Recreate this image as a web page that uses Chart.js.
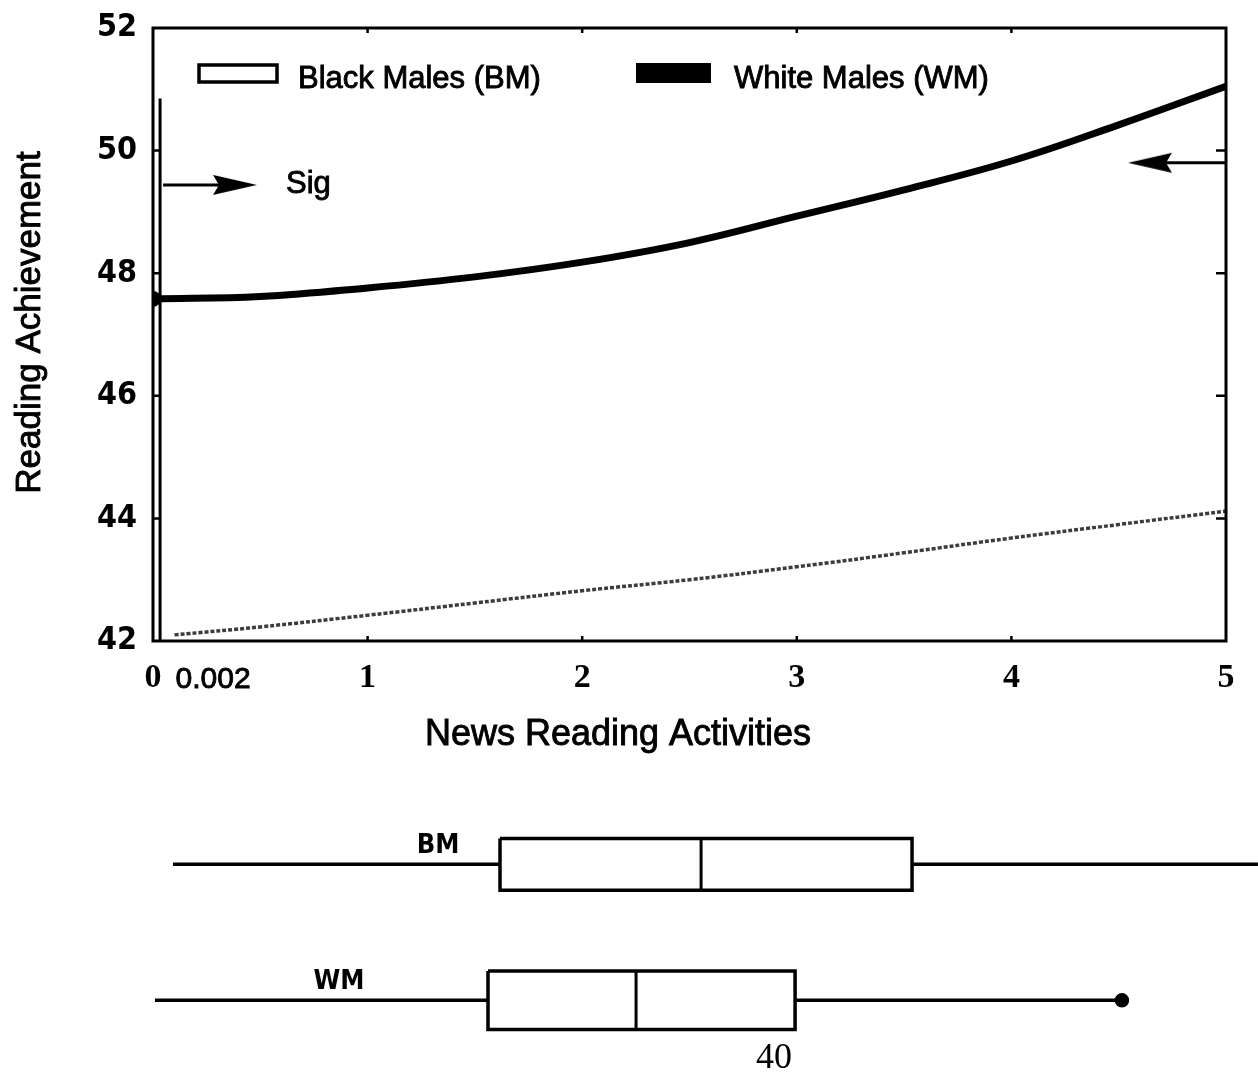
<!DOCTYPE html>
<html>
<head>
<meta charset="utf-8">
<script src="https://cdn.jsdelivr.net/npm/chart.js@4.4.1/dist/chart.umd.min.js"></script>
<style>
  body { margin: 0; background: #fff; width: 1258px; height: 1082px; position: relative; overflow: hidden; }
  #grafico { position: absolute; left: 0; top: 0; }
  #cajas { position: absolute; left: 0; top: 760px; }
  #pagina { position: absolute; left: 756px; top: 1036px; font: 36px 'Liberation Serif', serif; color: #000; line-height: 40px; }
</style>
</head>
<body>
<canvas id="grafico" width="1258" height="760"></canvas>
<canvas id="cajas" width="1258" height="322"></canvas>
<div id="pagina">40</div>
<script>
// datos de la curva
const actividades = [0, 0.5, 1, 1.5, 2, 2.5, 3, 3.5, 4, 4.5, 5];
const logroWM = [47.58, 47.62, 47.76, 47.94, 48.18, 48.5, 48.93, 49.36, 49.83, 50.42, 51.05];
const actividadesBM = [0.1, 0.5, 1, 1.5, 2, 2.5, 3, 3.5, 4, 4.5, 5];
const logroBM = [42.1, 42.23, 42.42, 42.62, 42.82, 43.0, 43.21, 43.44, 43.68, 43.9, 44.12];
const etiquetas = ['Black Males (BM)', 'White Males (WM)'];

// region significativa
const sigX = [0.033, 0.033];
const sigY = [42, 50.85];
const flechaSigX = [0.047, 0.382];
const flechaSigY = [49.44, 49.44];
const flechaDerX = [5, 4.646];
const flechaDerY = [49.8, 49.8];

// diagramas de caja
const grupos = ['BM', 'WM'];
const filas = [1, 2];
const bigoteMin = [0.093, 0.009];
const cuartil1 = [1.617, 1.561];
const medianas = [2.554, 2.251];
const cuartil3 = [3.537, 2.992];
const bigoteMax = [5.149, 4.515];
const puntoFinal = [false, true];

const SANS = "'Liberation Sans', Arial, sans-serif";
const NARROW = "'Liberation Sans Narrow', 'DejaVu Sans Condensed', 'Liberation Sans', sans-serif";
const SERIF = "'Liberation Serif', serif";

function puntaFlecha() {
    const c = document.createElement('canvas');
    c.width = 44; c.height = 22;
    const g = c.getContext('2d');
    g.fillStyle = '#000';
    g.beginPath();
    g.moveTo(0, 1); g.lineTo(44, 11); g.lineTo(0, 21); g.lineTo(6, 11);
    g.closePath(); g.fill();
    return c;
}
const punta = puntaFlecha();

const pares = (xs, ys) => xs.map((x, i) => ({ x, y: ys[i] }));

// texto algo mas grueso, como en el escaneo
function textoGrueso(ctx, txt, x, y) {
    ctx.lineWidth = 0.9;
    ctx.strokeStyle = '#000';
    ctx.fillText(txt, x, y);
    ctx.strokeText(txt, x, y);
}

const decoracion = {
    id: 'decoracion',
    afterDraw(chart) {
        const { ctx, chartArea: a, scales: { x, y } } = chart;
        ctx.save();
        ctx.strokeStyle = '#000';
        ctx.lineWidth = 3;
        ctx.strokeRect(a.left, a.top, a.right - a.left, a.bottom - a.top);

        // marcas internas
        ctx.lineWidth = 2.5;
        [44, 46, 48, 50].forEach(v => {
            const py = y.getPixelForValue(v);
            ctx.beginPath();
            ctx.moveTo(a.left, py); ctx.lineTo(a.left + 8, py);
            ctx.moveTo(a.right, py); ctx.lineTo(a.right - 10, py);
            ctx.stroke();
        });
        [1, 2, 3, 4].forEach(v => {
            const px = x.getPixelForValue(v);
            ctx.beginPath();
            ctx.moveTo(px, a.bottom); ctx.lineTo(px, a.bottom - 5);
            ctx.moveTo(px, a.top); ctx.lineTo(px, a.top + 5);
            ctx.stroke();
        });

        // leyenda
        ctx.lineWidth = 3.5;
        ctx.fillStyle = '#fff';
        ctx.fillRect(199, 65, 78, 17);
        ctx.strokeRect(199, 65, 78, 17);
        ctx.fillStyle = '#000';
        ctx.fillRect(636, 63, 75, 20);
        ctx.font = '31px ' + SANS;
        ctx.textBaseline = 'middle';
        ctx.textAlign = 'left';
        textoGrueso(ctx, etiquetas[0], 298, 79);
        textoGrueso(ctx, etiquetas[1], 734, 79);

        // textos
        textoGrueso(ctx, 'Sig', x.getPixelForValue(0.62), y.getPixelForValue(49.44));
        ctx.font = '30px ' + SANS;
        ctx.textAlign = 'center';
        textoGrueso(ctx, '0.002', x.getPixelForValue(0.28), 680);
        ctx.font = '36px ' + SANS;
        textoGrueso(ctx, 'News Reading Activities', 618, 735);

        // titulo del eje y
        ctx.translate(30, (a.top + a.bottom) / 2 - 12);
        ctx.rotate(-Math.PI / 2);
        ctx.font = '35px ' + SANS;
        textoGrueso(ctx, 'Reading Achievement', 0, 0);
        ctx.restore();
    }
};

new Chart(document.getElementById('grafico'), {
    type: 'line',
    data: {
        datasets: [
            {
                label: etiquetas[0],
                data: pares(actividadesBM, logroBM),
                borderColor: '#3c3c3c',
                borderWidth: 3.5,
                borderDash: [4, 2],
                pointRadius: 0,
                tension: 0.4
            },
            {
                label: etiquetas[1],
                data: pares(actividades, logroWM),
                borderColor: '#000',
                borderWidth: 7,
                pointRadius: actividades.map((_, i) => i === 0 ? 4.5 : 0),
                pointBackgroundColor: '#000',
                tension: 0.4
            },
            {
                label: 'Sig',
                data: pares(sigX, sigY),
                borderColor: '#000',
                borderWidth: 3,
                pointRadius: 0
            },
            {
                label: 'flechaSig',
                data: pares(flechaSigX, flechaSigY),
                borderColor: '#000',
                borderWidth: 3,
                pointRadius: [0, 5],
                pointStyle: punta,
                pointRotation: 0
            },
            {
                label: 'flechaDer',
                data: pares(flechaDerX, flechaDerY),
                borderColor: '#000',
                borderWidth: 3,
                pointRadius: [0, 5],
                pointStyle: punta,
                pointRotation: 180
            }
        ]
    },
    options: {
        responsive: false,
        animation: false,
        layout: { padding: { top: 28, right: 32, left: 0, bottom: 0 } },
        plugins: { legend: { display: false }, tooltip: { enabled: false } },
        scales: {
            x: {
                type: 'linear',
                min: 0,
                max: 5,
                afterFit: s => { s.height = 119; },
                grid: { display: false },
                border: { display: false },
                ticks: {
                    stepSize: 1,
                    padding: 9,
                    color: '#000',
                    font: { family: SERIF, size: 34, weight: 'bold' }
                }
            },
            y: {
                min: 42,
                max: 52,
                afterFit: s => { s.width = 153; },
                grid: { display: false },
                border: { display: false },
                ticks: {
                    stepSize: 2,
                    padding: 8,
                    color: '#000',
                    font: { family: NARROW, size: 32, weight: 'bold' }
                }
            }
        }
    },
    plugins: [decoracion]
});

// cajas y bigotes
const conjuntos = [];
const medioAlto = [0.19, 0.215];
grupos.forEach((g, i) => {
    const f = filas[i];
    const h = medioAlto[i];
    conjuntos.push({
        label: g + ' bigote inferior',
        data: [{ x: bigoteMin[i], y: f }, { x: cuartil1[i], y: f }],
        borderColor: '#000', borderWidth: 3.5, pointRadius: 0, clip: false
    });
    conjuntos.push({
        label: g + ' bigote superior',
        data: [{ x: cuartil3[i], y: f }, { x: bigoteMax[i], y: f }],
        borderColor: '#000', borderWidth: 3.5, clip: false,
        pointRadius: [0, puntoFinal[i] ? 5.5 : 0],
        pointBackgroundColor: '#000', pointBorderColor: '#000'
    });
    conjuntos.push({
        label: g + ' caja',
        data: [
            { x: cuartil1[i], y: f - h }, { x: cuartil3[i], y: f - h },
            { x: cuartil3[i], y: f + h }, { x: cuartil1[i], y: f + h },
            { x: cuartil1[i], y: f - h }
        ],
        borderColor: '#000', borderWidth: 3.5, pointRadius: 0,
        fill: false, clip: false, borderJoinStyle: 'miter'
    });
    conjuntos.push({
        label: g + ' mediana',
        data: [{ x: medianas[i], y: f - h }, { x: medianas[i], y: f + h }],
        borderColor: '#000', borderWidth: 3, pointRadius: 0, clip: false
    });
});

const rotulos = {
    id: 'rotulos',
    afterDraw(chart) {
        const { ctx, scales: { x, y } } = chart;
        const posX = [1.328, 0.867];
        ctx.save();
        ctx.fillStyle = '#000';
        ctx.font = 'bold 27px ' + NARROW;
        ctx.textAlign = 'center';
        ctx.textBaseline = 'middle';
        grupos.forEach((g, i) => {
            ctx.fillText(g, x.getPixelForValue(posX[i]), y.getPixelForValue(filas[i]) - 18);
        });
        ctx.restore();
    }
};

new Chart(document.getElementById('cajas'), {
    type: 'line',
    data: { datasets: conjuntos },
    options: {
        responsive: false,
        animation: false,
        layout: { padding: { top: 0, right: 32, left: 153, bottom: 0 } },
        plugins: { legend: { display: false }, tooltip: { enabled: false } },
        scales: {
            x: { type: 'linear', min: 0, max: 5, display: false },
            y: { type: 'linear', min: 0.299, max: 2.535, reverse: true, display: false }
        }
    },
    plugins: [rotulos]
});
</script>
</body>
</html>
